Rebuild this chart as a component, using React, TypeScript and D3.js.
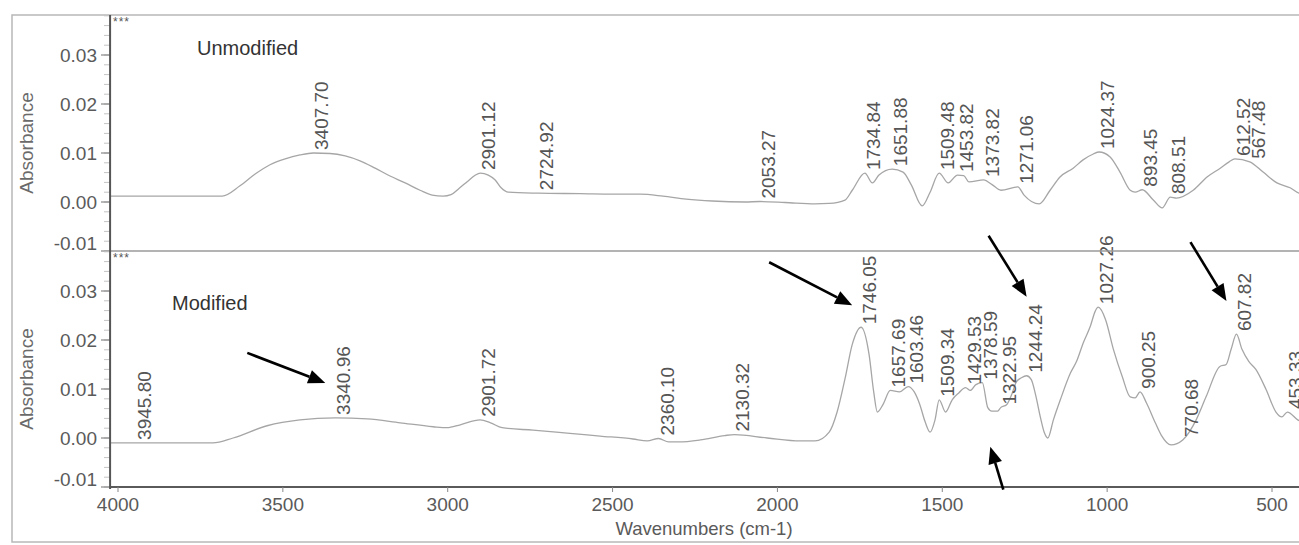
import React from 'react';
import * as d3 from 'd3';

// FTIR absorbance spectra: [wavenumber (cm-1), absorbance]
const unmodifiedSpectrum: [number, number][] = [
  [4024, 0.0012], [3684, 0.0012], [3630, 0.0033], [3584, 0.0057], [3539, 0.0076],
  [3493, 0.0088], [3448, 0.0096], [3407.70, 0.0100], [3357, 0.0099], [3311, 0.0094],
  [3266, 0.0084], [3220, 0.0069], [3175, 0.0053], [3129, 0.0039], [3084, 0.0024],
  [3047, 0.0014], [3014, 0.0012], [2990, 0.0015], [2965, 0.0028], [2940, 0.0042],
  [2918, 0.0054], [2901.12, 0.0059], [2877, 0.0055], [2856, 0.0045], [2838, 0.0029],
  [2816, 0.0020], [2724.92, 0.0018], [2598, 0.0017], [2498, 0.0016], [2416, 0.0016],
  [2347, 0.0012], [2277, 0.0006], [2198, 0.0002], [2098, 0.0000], [2053.27, 0.0001],
  [1977, -0.0001], [1886, -0.0004], [1843, -0.0003], [1795, 0.0004], [1773, 0.0024],
  [1734.84, 0.0059], [1712, 0.0039], [1692, 0.0055], [1651.88, 0.0067], [1619, 0.0061],
  [1594, 0.0035], [1561, -0.0008], [1537, 0.0020], [1509.48, 0.0059], [1482, 0.0039],
  [1453.82, 0.0055], [1435, 0.0054], [1419, 0.0041], [1373.82, 0.0045], [1350, 0.0036],
  [1322, 0.0024], [1271.06, 0.0031], [1252, 0.0014], [1206, -0.0004], [1173, 0.0024],
  [1143, 0.0051], [1103, 0.0069], [1073, 0.0086], [1042, 0.0098], [1024.37, 0.0102],
  [991, 0.0092], [961, 0.0061], [930, 0.0024], [915, 0.0020], [893.45, 0.0025],
  [860, 0.0004], [833, -0.0012], [808.51, 0.0010], [790, 0.0008], [739, 0.0024],
  [697, 0.0051], [657, 0.0069], [630, 0.0082], [612.52, 0.0088], [567.48, 0.0082],
  [527, 0.0061], [485, 0.0039], [445, 0.0029], [418, 0.0018], [400, 0.0015],
];

const modifiedSpectrum: [number, number][] = [
  [4024, -0.0010], [3945.80, -0.0010], [3712, -0.0010], [3651, 0.0000], [3548, 0.0025],
  [3448, 0.0037], [3340.96, 0.0041], [3244, 0.0039], [3144, 0.0031], [3044, 0.0023],
  [3002, 0.0021], [2962, 0.0027], [2901.72, 0.0037], [2870, 0.0031], [2835, 0.0021],
  [2741, 0.0016], [2638, 0.0010], [2538, 0.0004], [2438, -0.0002], [2395, -0.0006],
  [2360.10, -0.0001], [2330, -0.0008], [2300, -0.0008], [2234, -0.0004], [2160, 0.0005],
  [2130.32, 0.0007], [2031, 0.0000], [1931, -0.0006], [1886, -0.0006], [1843, 0.0012],
  [1819, 0.0053], [1795, 0.0121], [1773, 0.0191], [1746.05, 0.0226], [1722, 0.0170],
  [1708, 0.0094], [1697, 0.0053], [1680, 0.0068], [1657.69, 0.0097], [1630, 0.0094],
  [1603.46, 0.0105], [1585, 0.0094], [1568, 0.0068], [1552, 0.0033], [1537, 0.0012],
  [1522, 0.0037], [1509.34, 0.0078], [1490, 0.0053], [1470, 0.0078], [1450, 0.0092],
  [1429.53, 0.0103], [1415, 0.0097], [1398, 0.0109], [1378.59, 0.0113], [1362, 0.0062],
  [1350, 0.0055], [1332, 0.0055], [1322.95, 0.0062], [1305, 0.0068], [1290, 0.0088],
  [1275, 0.0115], [1260, 0.0123], [1244.24, 0.0127], [1230, 0.0119], [1217, 0.0088],
  [1202, 0.0041], [1190, 0.0010], [1180, 0.0000], [1163, 0.0037], [1142, 0.0078],
  [1111, 0.0133], [1093, 0.0156], [1072, 0.0195], [1051, 0.0228], [1036, 0.0259],
  [1027.26, 0.0267], [1005, 0.0242], [981, 0.0181], [954, 0.0125], [930, 0.0084],
  [915, 0.0082], [900.25, 0.0094], [881, 0.0072], [854, 0.0031], [836, 0.0006],
  [806, -0.0014], [770.68, -0.0004], [730, 0.0037], [700, 0.0084], [658, 0.0146],
  [639, 0.0150], [624, 0.0181], [607.82, 0.0212], [591, 0.0181], [570, 0.0156],
  [549, 0.0140], [518, 0.0099], [488, 0.0053], [470, 0.0043], [453.33, 0.0053],
  [422, 0.0037], [400, 0.0030],
];

const unmodifiedPeaks = [
  3407.70, 2901.12, 2724.92, 2053.27, 1734.84, 1651.88, 1509.48, 1453.82,
  1373.82, 1271.06, 1024.37, 893.45, 808.51, 612.52, 567.48,
];

const modifiedPeaks = [
  3945.80, 3340.96, 2901.72, 2360.10, 2130.32, 1746.05, 1657.69, 1603.46, 1509.34,
  1429.53, 1378.59, 1322.95, 1244.24, 1027.26, 900.25, 770.68, 607.82, 453.33,
];

// Highlighted bands in the modified sample: arrow tail/tip offsets from the peak
const highlightedBands = [
  { wn: 3340.96, tail: [-88, -65], tip: [-10, -35] },
  { wn: 1746.05, tail: [-92, -65], tip: [-9, -22] },
  { wn: 1244.24, tail: [-38, -140], tip: [0, -79] },
  { wn: 607.82, tail: [-46, -92], tip: [-10, -33] },
  { wn: 1378.59, tail: [21, 107], tip: [8, 64] },
];

const absorbanceTicks = [-0.01, 0.0, 0.01, 0.02, 0.03];
const wavenumberTicks = [4000, 3500, 3000, 2500, 2000, 1500, 1000, 500];

const WIDTH = 1299;
const HEIGHT = 545;
const FONT = "'Liberation Sans', Arial, sans-serif";

const x = d3.scaleLinear().domain([4000, 500]).range([118, 1272]);
const plotLeft = x(4024);
const plotRight = x(400);

const panels = [
  { key: 'top', name: 'Unmodified', spectrum: unmodifiedSpectrum, peaks: unmodifiedPeaks, top: 15, bottom: 251, titleX: 197, titleY: 55 },
  { key: 'bottom', name: 'Modified', spectrum: modifiedSpectrum, peaks: modifiedPeaks, top: 251, bottom: 487, titleX: 172, titleY: 310 },
];

const yFor = (top: number, bottom: number) =>
  d3.scaleLinear().domain([-0.01, -0.01 + (bottom - top) / 4900]).range([bottom, top]);

function Arrow({ x1, y1, x2, y2 }: { x1: number; y1: number; x2: number; y2: number }) {
  const ang = Math.atan2(y2 - y1, x2 - x1);
  const len = 17;
  const half = 7;
  const bx = x2 - len * Math.cos(ang);
  const by = y2 - len * Math.sin(ang);
  const px = -Math.sin(ang) * half;
  const py = Math.cos(ang) * half;
  return (
    <g>
      <line x1={x1} y1={y1} x2={bx} y2={by} stroke="#000" strokeWidth={2.6} />
      <polygon points={`${x2},${y2} ${bx + px},${by + py} ${bx - px},${by - py}`} fill="#000" />
    </g>
  );
}

export default function App() {
  const minorTicks = d3.range(-0.01, 0.0381, 0.002);
  const bottomY = yFor(251, 487);

  return (
    <svg
      width={WIDTH}
      height={HEIGHT}
      style={{ position: 'absolute', left: 0, top: 0, display: 'block', background: '#fff' }}
      fontFamily={FONT}
    >
      <defs>
        {panels.map((p) => (
          <clipPath id={`clip-${p.key}`} key={p.key}>
            <rect x={plotLeft} y={p.top} width={plotRight - plotLeft} height={p.bottom - p.top} />
          </clipPath>
        ))}
      </defs>

      {/* outer frame */}
      <rect x={12} y={15} width={WIDTH + 20} height={527} fill="none" stroke="#b8b8b8" strokeWidth={1.5} />

      {panels.map((p) => {
        const y = yFor(p.top, p.bottom);
        const line = d3
          .line<[number, number]>()
          .x((d) => x(d[0]))
          .y((d) => y(d[1]))
          .curve(d3.curveMonotoneX);
        const lookup = new Map(p.spectrum.map((d) => [d[0], d[1]]));
        return (
          <g key={p.key}>
            {/* y axis ticks */}
            {minorTicks.map((t, i) => (
              <line key={`m${i}`} x1={104} x2={plotLeft} y1={y(t)} y2={y(t)} stroke="#c4c4c4" strokeWidth={1} />
            ))}
            {absorbanceTicks.map((t) => (
              <g key={t}>
                <line x1={101} x2={plotLeft} y1={y(t)} y2={y(t)} stroke="#888" strokeWidth={1.2} />
                <text
                  x={97}
                  y={y(t) + (t < 0 ? -8 : 0)}
                  dy="0.35em"
                  textAnchor="end"
                  fontSize={19}
                  fill="#5a5a5a"
                >
                  {t.toFixed(2)}
                </text>
              </g>
            ))}
            <text
              transform={`translate(33, ${(p.top + p.bottom) / 2 + 10}) rotate(-90)`}
              textAnchor="middle"
              fontSize={19}
              fill="#6a6a6a"
            >
              Absorbance
            </text>
            <text x={113} y={p.top + 11} fontSize={12} fill="#555" letterSpacing={1}>
              ***
            </text>
            <text x={p.titleX} y={p.titleY} fontSize={20} fill="#333">
              {p.name}
            </text>

            <path
              d={line(p.spectrum) ?? ''}
              fill="none"
              stroke="#a6a6a6"
              strokeWidth={1.3}
              clipPath={`url(#clip-${p.key})`}
            />

            {p.peaks.map((wn) => {
              const a = lookup.get(wn) ?? 0;
              const px = x(wn) + 15;
              const py = y(a) - 3;
              return (
                <text
                  key={wn}
                  transform={`translate(${px}, ${py}) rotate(-90)`}
                  fontSize={19}
                  fill="#555"
                >
                  {wn.toFixed(2)}
                </text>
              );
            })}
          </g>
        );
      })}

      {/* panel separator and axes */}
      <line x1={plotLeft} x2={plotRight} y1={251} y2={251} stroke="#9a9a9a" strokeWidth={1.6} />
      <line x1={plotLeft} x2={plotRight} y1={487} y2={487} stroke="#5a5a5a" strokeWidth={2} />
      <line x1={plotLeft} x2={plotLeft} y1={15} y2={489} stroke="#555" strokeWidth={2} />

      {wavenumberTicks.map((t) => (
        <g key={t}>
          <line x1={x(t)} x2={x(t)} y1={487} y2={492} stroke="#888" strokeWidth={1} />
          <text x={x(t)} y={511} textAnchor="middle" fontSize={19} fill="#5a5a5a">
            {t}
          </text>
        </g>
      ))}
      <text x={704} y={535} textAnchor="middle" fontSize={18.5} fill="#5a5a5a">
        Wavenumbers (cm-1)
      </text>

      {/* annotation arrows on the modified spectrum */}
      {highlightedBands.map((b) => {
        const a = modifiedSpectrum.find((d) => d[0] === b.wn)?.[1] ?? 0;
        const px = x(b.wn);
        const py = bottomY(a);
        return (
          <Arrow
            key={b.wn}
            x1={px + b.tail[0]}
            y1={py + b.tail[1]}
            x2={px + b.tip[0]}
            y2={py + b.tip[1]}
          />
        );
      })}
    </svg>
  );
}
